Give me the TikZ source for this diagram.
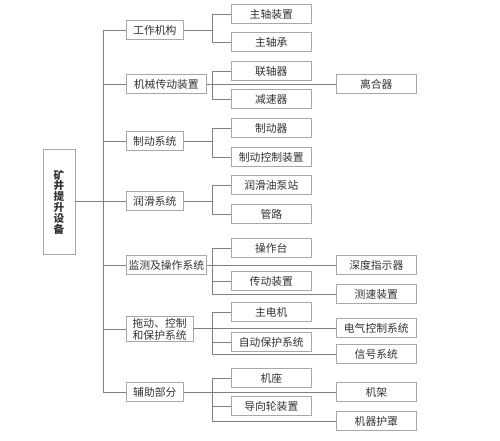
\documentclass[tikz,border=0pt]{standalone}
\usepackage{fontspec}
\setmainfont{Noto Sans CJK SC}
\usepackage{tikz}
\usetikzlibrary{shadows}
\definecolor{boxline}{HTML}{A8A8A8}
\definecolor{linkline}{HTML}{808080}
\definecolor{ink}{HTML}{333333}

\begin{document}
\begin{tikzpicture}[
  x=0.75pt, y=-0.75pt,
  box/.style={draw=boxline, fill=white, line width=0.5pt, align=center,
    inner sep=1pt, text=ink, font=\fontsize{8.1}{9}\selectfont,
    minimum height=14.25pt,
    drop shadow={shadow xshift=0.5pt, shadow yshift=-0.5pt, fill=black!25, opacity=1}},
  main/.style={box, anchor=west, minimum width=42.75pt},
  mainw/.style={main, minimum width=60pt},
  part/.style={box, anchor=west, minimum width=60pt},
  link/.style={draw=linkline, line width=0.5pt}
]
\useasboundingbox (0,0) rectangle (500,440);

\node[box, minimum width=24pt, minimum height=78.75pt,
  font=\fontsize{8}{8.1}\selectfont\bfseries] (root) at (59,202)
  {矿\\井\\提\\升\\设\\备};

% first level
\node[main]  (gzjg) at (126,30)  {工作机构};
\node[mainw] (jxcd) at (126,84)  {机械传动装置};
\node[main]  (zdxt) at (126,141) {制动系统};
\node[main]  (rhxt) at (126,201) {润滑系统};
\node[mainw] (jcxt) at (126,265) {监测及操作系统};
\node[main, minimum width=50pt, minimum height=18.75pt,
  font=\fontsize{8.1}{9}\selectfont] (tdxt) at (126,329)
  {拖动、控制\\和保护系统};
\node[main]  (fzbf) at (126,392) {辅助部分};

% second level
\node[part] (zzzz) at (231,14)  {主轴装置};
\node[part] (zzc)  at (231,42)  {主轴承};
\node[part] (lzq)  at (231,71)  {联轴器};
\node[part] (jsq)  at (231,99)  {减速器};
\node[part] (zdq)  at (231,128) {制动器};
\node[part] (zdkz) at (231,157) {制动控制装置};
\node[part] (rhyb) at (231,185) {润滑油泵站};
\node[part] (gl)   at (231,214) {管路};
\node[part] (czt)  at (231,248) {操作台};
\node[part] (cdzz) at (231,281) {传动装置};
\node[part] (zdj)  at (231,312) {主电机};
\node[part] (zdbh) at (231,342) {自动保护系统};
\node[part] (jz)   at (231,378) {机座};
\node[part] (dxl)  at (231,406) {导向轮装置};

% third level
\node[part] (lhq)  at (336,84)  {离合器};
\node[part] (sdzs) at (336,265) {深度指示器};
\node[part] (cszz) at (336,294) {测速装置};
\node[part] (dqkz) at (336,328) {电气控制系统};
\node[part] (xhxt) at (336,354) {信号系统};
\node[part] (jjia) at (336,392) {机架};
\node[part] (jqhz) at (336,421) {机器护罩};

% trunk
\coordinate (trunk) at (103,201);
\draw[link] (root.east |- trunk) -- (trunk);
\foreach \n in {gzjg,jxcd,zdxt,rhxt,jcxt,tdxt,fzbf}
  \draw[link] (trunk) |- (\n.west);

% branches
\coordinate (b1) at (212,30);
\draw[link] (gzjg.east) -- (b1);
\draw[link] (b1) |- (zzzz.west);
\draw[link] (b1) |- (zzc.west);

\coordinate (b2) at (212,84);
\draw[link] (jxcd.east) -- (lhq.west);
\draw[link] (b2) |- (lzq.west);
\draw[link] (b2) |- (jsq.west);

\coordinate (b3) at (212,141);
\draw[link] (zdxt.east) -- (b3);
\draw[link] (b3) |- (zdq.west);
\draw[link] (b3) |- (zdkz.west);

\coordinate (b4) at (212,201);
\draw[link] (rhxt.east) -- (b4);
\draw[link] (b4) |- (rhyb.west);
\draw[link] (b4) |- (gl.west);

\coordinate (b5) at (212,265);
\draw[link] (jcxt.east) -- (sdzs.west);
\draw[link] (b5) |- (czt.west);
\draw[link] (b5) |- (cdzz.west);
\draw[link] (b5) |- (cszz.west);

\coordinate (b6) at (212,328);
\draw[link] (tdxt.east |- dqkz.west) -- (dqkz.west);
\draw[link] (b6) |- (zdj.west);
\draw[link] (b6) |- (zdbh.west);
\draw[link] (b6) |- (xhxt.west);

\coordinate (b7) at (212,392);
\draw[link] (fzbf.east) -- (jjia.west);
\draw[link] (b7) |- (jz.west);
\draw[link] (b7) |- (dxl.west);
\draw[link] (b7) |- (jqhz.west);
\end{tikzpicture}
\end{document}
